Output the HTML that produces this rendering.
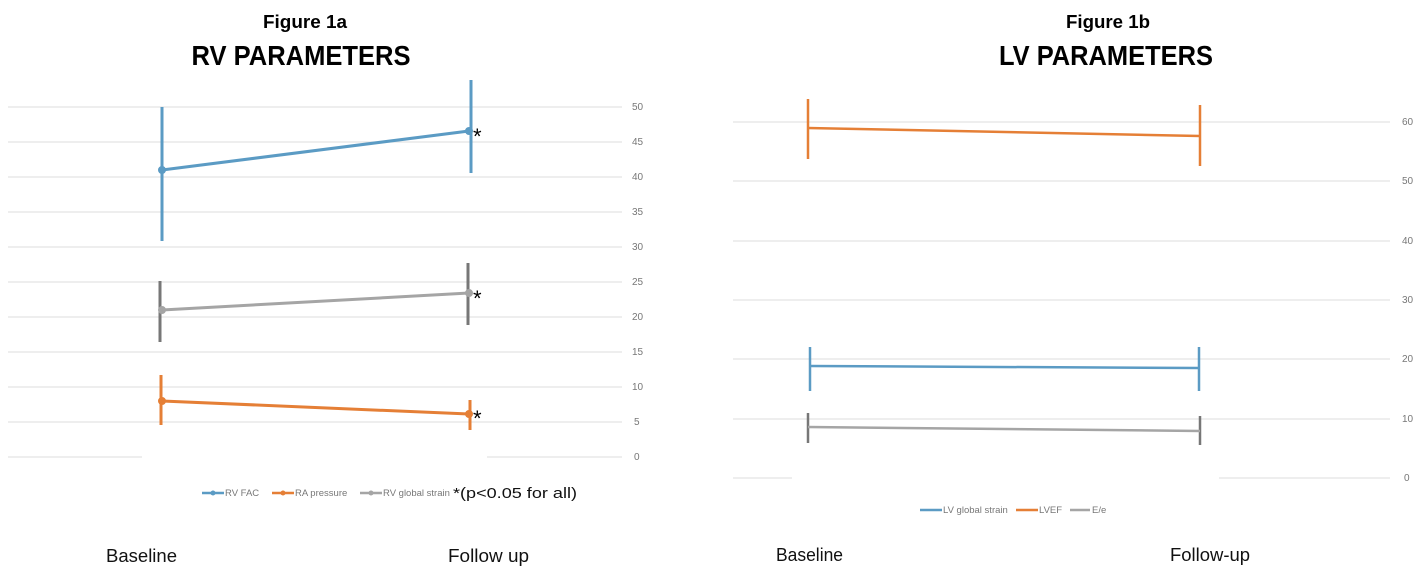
<!DOCTYPE html>
<html><head><meta charset="utf-8"><style>body{margin:0;background:#fff}svg{display:block}</style></head>
<body>
<svg width="1427" height="575" xmlns="http://www.w3.org/2000/svg" font-family="Liberation Sans, sans-serif">
<rect width="1427" height="575" fill="#fff"/>
<text x="305" y="28" text-anchor="middle" font-weight="bold" font-size="18" textLength="84" lengthAdjust="spacingAndGlyphs">Figure 1a</text>
<text x="301" y="65" text-anchor="middle" font-weight="bold" font-size="28" textLength="219" lengthAdjust="spacingAndGlyphs">RV PARAMETERS</text>
<text x="1108" y="28" text-anchor="middle" font-weight="bold" font-size="18" textLength="84" lengthAdjust="spacingAndGlyphs">Figure 1b</text>
<text x="1106" y="65" text-anchor="middle" font-weight="bold" font-size="28" textLength="214" lengthAdjust="spacingAndGlyphs">LV PARAMETERS</text>
<g stroke="#e3e3e3" stroke-width="1.2">
<line x1="8" x2="622" y1="107" y2="107"/><line x1="8" x2="622" y1="142" y2="142"/><line x1="8" x2="622" y1="177" y2="177"/>
<line x1="8" x2="622" y1="212" y2="212"/><line x1="8" x2="622" y1="247" y2="247"/><line x1="8" x2="622" y1="282" y2="282"/>
<line x1="8" x2="622" y1="317" y2="317"/><line x1="8" x2="622" y1="352" y2="352"/><line x1="8" x2="622" y1="387" y2="387"/>
<line x1="8" x2="622" y1="422" y2="422"/><line x1="8" x2="142" y1="457" y2="457"/><line x1="487" x2="622" y1="457" y2="457"/>
</g>
<g font-size="10" fill="#777">
<text x="632" y="110">50</text><text x="632" y="145">45</text><text x="632" y="180">40</text><text x="632" y="215">35</text>
<text x="632" y="250">30</text><text x="632" y="285">25</text><text x="632" y="320">20</text><text x="632" y="355">15</text>
<text x="632" y="390">10</text><text x="634" y="425">5</text><text x="634" y="460">0</text>
</g>
<g stroke="#5b9bc4" stroke-width="3" fill="#5b9bc4">
<line x1="162" y1="107" x2="162" y2="241"/><line x1="471" y1="80" x2="471" y2="173"/>
<line x1="162" y1="170" x2="469" y2="131"/><circle cx="162" cy="170" r="2.5"/><circle cx="469" cy="131" r="2.5"/>
</g>
<g stroke="#777" stroke-width="3"><line x1="160" y1="281" x2="160" y2="342"/><line x1="468" y1="263" x2="468" y2="325"/></g>
<g stroke="#a5a5a5" stroke-width="3" fill="#a5a5a5"><line x1="162" y1="310" x2="469" y2="293"/><circle cx="162" cy="310" r="2.5"/><circle cx="469" cy="293" r="2.5"/></g>
<g stroke="#e57f36" stroke-width="3" fill="#e57f36">
<line x1="161" y1="375" x2="161" y2="425"/><line x1="470" y1="400" x2="470" y2="430"/>
<line x1="162" y1="401" x2="469" y2="414"/><circle cx="162" cy="401" r="2.5"/><circle cx="469" cy="414" r="2.5"/>
</g>
<g font-size="22"><text x="473" y="144">*</text><text x="473" y="306">*</text><text x="473" y="426">*</text></g>
<g stroke-width="2.5">
<line x1="202" x2="224" y1="493" y2="493" stroke="#5b9bc4"/><circle cx="213" cy="493" r="2.5" fill="#5b9bc4"/>
<line x1="272" x2="294" y1="493" y2="493" stroke="#e57f36"/><circle cx="283" cy="493" r="2.5" fill="#e57f36"/>
<line x1="360" x2="382" y1="493" y2="493" stroke="#a5a5a5"/><circle cx="371" cy="493" r="2.5" fill="#a5a5a5"/>
</g>
<g font-size="9.5" fill="#777"><text x="225" y="496">RV FAC</text><text x="295" y="496">RA pressure</text><text x="383" y="496">RV global strain</text></g>
<text x="453" y="498" font-size="15" fill="#111" textLength="124" lengthAdjust="spacingAndGlyphs">*(p&lt;0.05 for all)</text>
<g stroke="#e3e3e3" stroke-width="1.2">
<line x1="733" x2="1390" y1="122" y2="122"/><line x1="733" x2="1390" y1="181" y2="181"/><line x1="733" x2="1390" y1="241" y2="241"/>
<line x1="733" x2="1390" y1="300" y2="300"/><line x1="733" x2="1390" y1="359" y2="359"/><line x1="733" x2="1390" y1="419" y2="419"/>
<line x1="733" x2="792" y1="478" y2="478"/><line x1="1219" x2="1390" y1="478" y2="478"/>
</g>
<g font-size="10" fill="#777">
<text x="1402" y="125">60</text><text x="1402" y="184">50</text><text x="1402" y="244">40</text><text x="1402" y="303">30</text>
<text x="1402" y="362">20</text><text x="1402" y="422">10</text><text x="1404" y="481">0</text>
</g>
<g stroke="#e57f36" stroke-width="2.5"><line x1="808" y1="99" x2="808" y2="159"/><line x1="1200" y1="105" x2="1200" y2="166"/><line x1="808" y1="128" x2="1200" y2="136"/></g>
<g stroke="#5b9bc4" stroke-width="2.5"><line x1="810" y1="347" x2="810" y2="391"/><line x1="1199" y1="347" x2="1199" y2="391"/><line x1="810" y1="366" x2="1199" y2="368"/></g>
<g stroke="#777" stroke-width="2.5"><line x1="808" y1="413" x2="808" y2="443"/><line x1="1200" y1="416" x2="1200" y2="445"/></g>
<line x1="808" y1="427" x2="1200" y2="431" stroke="#a5a5a5" stroke-width="2.5"/>
<g stroke-width="2.5">
<line x1="920" x2="942" y1="510" y2="510" stroke="#5b9bc4"/>
<line x1="1016" x2="1038" y1="510" y2="510" stroke="#e57f36"/>
<line x1="1070" x2="1090" y1="510" y2="510" stroke="#a5a5a5"/>
</g>
<g font-size="9.5" fill="#777"><text x="943" y="513">LV global strain</text><text x="1039" y="513">LVEF</text><text x="1092" y="513">E/e</text></g>
<g font-size="18" fill="#111">
<text x="106" y="562" textLength="71" lengthAdjust="spacingAndGlyphs">Baseline</text>
<text x="448" y="562" textLength="81" lengthAdjust="spacingAndGlyphs">Follow up</text>
<text x="776" y="561" textLength="67" lengthAdjust="spacingAndGlyphs">Baseline</text>
<text x="1170" y="561" textLength="80" lengthAdjust="spacingAndGlyphs">Follow-up</text>
</g>
</svg>
</body></html>
